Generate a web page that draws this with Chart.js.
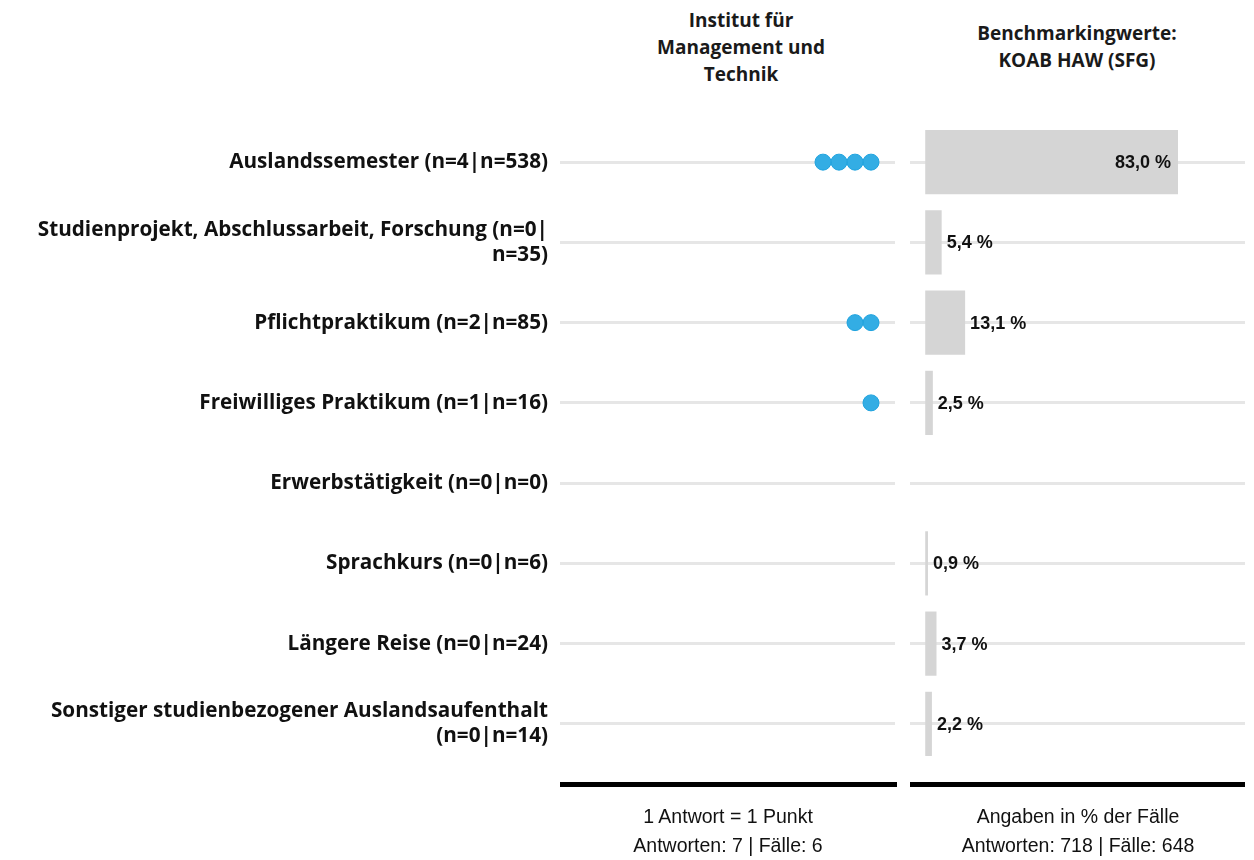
<!DOCTYPE html>
<html>
<head>
<meta charset="utf-8">
<script src="https://cdn.jsdelivr.net/npm/chart.js@4"></script>
<style>
  body { margin: 0; background: #fff; width: 1254px; height: 860px; position: relative; overflow: hidden; }
  .box { position: absolute; top: 0; height: 860px; }
  .head { position: absolute; text-align: center; font: bold 19px "Open Sans", sans-serif; line-height: 27px; color: #1a1a1a; }
  .foot { position: absolute; text-align: center; font: 19.5px "Liberation Sans", Arial, sans-serif; line-height: 29px; color: #111; }
</style>
</head>
<body>
<div class="head" style="left:591px; top:7px; width:300px;">Institut für<br>Management und<br>Technik</div>
<div class="head" style="left:927px; top:20px; width:300px;">Benchmarkingwerte:<br>KOAB HAW (SFG)</div>
<div class="box" style="left:0; width:900px;"><canvas id="dots"></canvas></div>
<div class="box" style="left:900px; width:354px;"><canvas id="bars"></canvas></div>
<div class="foot" style="left:578px; top:802px; width:300px;">1 Antwort = 1 Punkt<br>Antworten: 7 | Fälle: 6</div>
<div class="foot" style="left:928px; top:802px; width:300px;">Angaben in % der Fälle<br>Antworten: 718 | Fälle: 648</div>
<script>
const categories = [
    ['Auslandssemester (n=4|n=538)'],
    ['Studienprojekt, Abschlussarbeit, Forschung (n=0|', 'n=35)'],
    ['Pflichtpraktikum (n=2|n=85)'],
    ['Freiwilliges Praktikum (n=1|n=16)'],
    ['Erwerbstätigkeit (n=0|n=0)'],
    ['Sprachkurs (n=0|n=6)'],
    ['Längere Reise (n=0|n=24)'],
    ['Sonstiger studienbezogener Auslandsaufenthalt', '(n=0|n=14)']
]
const instituteCounts = [4, 0, 2, 1, 0, 0, 0, 0]
const benchmarkPercent = [83.0, 5.4, 13.1, 2.5, 0, 0.9, 3.7, 2.2]

const GRID = '#e6e6e6'
const PAD_TOP = 122
const PAD_BOTTOM = 96

// ein Punkt pro Antwort, von rechts nach links aufgereiht
const dotPoints = []
instituteCounts.forEach((n, i) => { for (let k = 0; k < n; k++) dotPoints.push({ x: k, y: categories[i] }) })

const baseLine = {
    id: 'baseLine',
    afterDraw: (chart, args, opt) => {
        const { ctx, chartArea } = chart
        ctx.save()
        ctx.fillStyle = '#000'
        ctx.fillRect(chartArea.left + opt.l, chartArea.bottom + 18, chartArea.right - chartArea.left - opt.l + opt.r, 5)
        ctx.restore()
    }
}

const valueLabels = {
    id: 'valueLabels',
    afterDatasetsDraw: chart => {
        const { ctx } = chart
        const meta = chart.getDatasetMeta(0)
        ctx.save()
        ctx.font = 'bold 18px "Liberation Sans", Arial, sans-serif'
        ctx.fillStyle = '#111'
        ctx.textBaseline = 'middle'
        meta.data.forEach((bar, i) => {
            const v = benchmarkPercent[i]
            if (!v) return
            const txt = v.toFixed(1).replace('.', ',') + ' %'
            if (v > 50) { ctx.textAlign = 'right'; ctx.fillText(txt, bar.x - 7, bar.y + 1) }
            else { ctx.textAlign = 'left'; ctx.fillText(txt, bar.x + 5, bar.y + 1) }
        })
        ctx.restore()
    }
}

new Chart(document.getElementById('dots'), {
    type: 'scatter',
    data: {
        labels: categories,
        datasets: [{
            data: dotPoints,
            backgroundColor: '#33ade4',
            borderColor: '#1ea2de',
            borderWidth: 1,
            pointRadius: 8,
            pointHoverRadius: 8
        }]
    },
    options: {
        responsive: true,
        maintainAspectRatio: false,
        animation: false,
        layout: { autoPadding: false, padding: { top: PAD_TOP, bottom: PAD_BOTTOM, right: 5 } },
        plugins: { legend: { display: false }, tooltip: { enabled: false }, baseLine: { l: 0, r: 2 } },
        scales: {
            x: { type: 'linear', reverse: true, min: -1.5, max: 19.4375, display: false },
            y: {
                type: 'category',
                offset: true,
                afterFit: s => { s.width = 560 },
                border: { display: false },
                grid: { color: GRID, lineWidth: 3, drawTicks: false, offset: false },
                ticks: {
                    padding: 12,
                    color: '#111',
                    font: { family: '"Open Sans"', weight: 'bold', size: 20.7, lineHeight: 1.2 }
                }
            }
        }
    },
    plugins: [baseLine]
})

new Chart(document.getElementById('bars'), {
    type: 'bar',
    data: {
        labels: categories,
        datasets: [{
            data: benchmarkPercent,
            backgroundColor: '#d5d5d5',
            categoryPercentage: 1,
            barPercentage: 0.8
        }]
    },
    options: {
        indexAxis: 'y',
        responsive: true,
        maintainAspectRatio: false,
        animation: false,
        layout: { autoPadding: false, padding: { top: PAD_TOP, bottom: PAD_BOTTOM, left: 10, right: 9 } },
        plugins: { legend: { display: false }, tooltip: { enabled: false }, baseLine: { l: 0, r: 0 } },
        scales: {
            x: { min: -5, max: 105, display: false },
            y: {
                afterFit: s => { s.width = 0 },
                border: { display: false },
                grid: { color: GRID, lineWidth: 3, drawTicks: false, offset: false },
                ticks: { display: false }
            }
        }
    },
    plugins: [baseLine, valueLabels]
})
</script>
</body>
</html>
